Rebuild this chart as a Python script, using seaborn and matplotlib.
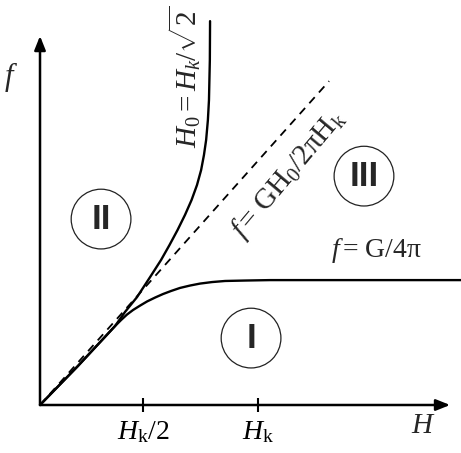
import numpy as np
import pandas as pd
import matplotlib
matplotlib.use('Agg')
import matplotlib.pyplot as plt
import seaborn as sns

# Curves (H in units of Hk, f in the same scale)
upper_H = [0.0, 0.174, 0.344, 0.390, 0.445, 0.505, 0.555, 0.594, 0.631, 0.665, 0.695, 0.720,
           0.739, 0.752, 0.762, 0.770, 0.775, 0.779, 0.780]
upper_f = [0.0, 0.179, 0.362, 0.427, 0.495, 0.587, 0.665, 0.734, 0.803, 0.872, 0.940, 1.009,
           1.078, 1.147, 1.216, 1.307, 1.399, 1.583, 1.761]

lower_H = [0.0, 0.174, 0.344, 0.372, 0.399, 0.427, 0.459, 0.491, 0.528, 0.564, 0.601, 0.642,
           0.688, 0.734, 0.789, 0.849, 0.940, 1.055, 1.931]
lower_f = [0.0, 0.179, 0.362, 0.390, 0.415, 0.436, 0.456, 0.475, 0.493, 0.509, 0.523, 0.537,
           0.548, 0.557, 0.564, 0.569, 0.571, 0.573, 0.573]

dash_H = [0.0, 1.326]
dash_f = [0.0, 1.486]

# Regions
region_names = ['I', 'II', 'III']
region_H = [0.968, 0.280, 1.486]
region_f = [0.307, 0.853, 1.050]

tick_pos = [0.472, 1.0]
tick_labels = [r'$H_{\mathrm{k}}/2$', r'$H_{\mathrm{k}}$']

sns.set_theme(style='white')
plt.rcParams['font.family'] = ['Liberation Serif', 'DejaVu Serif']
plt.rcParams['mathtext.fontset'] = 'custom'
plt.rcParams['mathtext.rm'] = 'Liberation Serif'
plt.rcParams['mathtext.it'] = 'Liberation Serif:italic'
plt.rcParams['mathtext.bf'] = 'Liberation Serif:bold'

fig = plt.figure(figsize=(4.61, 4.53), dpi=100)
ax = fig.add_axes([0, 0, 1, 1])
ax.set_xlim(-0.1835, 1.931)
ax.set_ylim(-0.2202, 1.858)

df_up = pd.DataFrame({'H': upper_H, 'f': upper_f})
df_low = pd.DataFrame({'H': lower_H, 'f': lower_f})
df_dash = pd.DataFrame({'H': dash_H, 'f': dash_f})

curve_kw = dict(color='black', lw=1.7, estimator=None, sort=False,
                solid_joinstyle='round', solid_capstyle='round')
sns.lineplot(data=df_up, x='H', y='f', ax=ax, **curve_kw)
sns.lineplot(data=df_low, x='H', y='f', ax=ax, **curve_kw)
sns.lineplot(data=df_dash, x='H', y='f', ax=ax, color='black', lw=1.3, estimator=None, sort=False,
             linestyle=(0, (4.5, 3.5)))

# Axes with arrows
for sp in ax.spines.values():
    sp.set_visible(False)
ax.spines['bottom'].set_position(('data', 0))
arrow = dict(arrowstyle='-|>,head_length=0.7,head_width=0.28', lw=1.8, color='black',
             shrinkA=0, shrinkB=0)
ax.annotate('', xy=(1.881, 0), xytext=(0, 0), arrowprops=arrow)
ax.annotate('', xy=(0, 1.693), xytext=(0, 0), arrowprops=arrow)

# Region circles and numerals
df_reg = pd.DataFrame({'H': region_H, 'f': region_f, 'name': region_names})
sns.scatterplot(data=df_reg, x='H', y='f', ax=ax, s=1850, marker='o', facecolor='none',
                edgecolor='#222222', linewidth=0.9, legend=False, zorder=3)
for name, h, f in zip(region_names, region_H, region_f):
    ax.text(h, f, name, fontsize=25, ha='center', va='center', family='Liberation Sans',
            fontweight='bold')

ax.set_xticks(tick_pos)
ax.set_xticklabels(tick_labels, fontsize=20)
ax.tick_params(axis='x', direction='inout', length=10, width=1.5, pad=5, colors='black', bottom=True)
ax.set_yticks([])
ax.set_xlabel('')
ax.set_ylabel('')

ax.text(1.757, -0.096, r'$H$', fontsize=21, ha='center', va='center')
ax.text(-0.133, 1.505, r'$f$', fontsize=22, ha='center', va='center')

ax.text(0.661, 1.505, r'$H_0 = H_k/\sqrt{2}$', fontsize=21, rotation=90,
        ha='center', va='center', rotation_mode='anchor')
ax.text(1.138, 1.060, r'$f\,$= GH$_0$/2πH$_{\mathrm{k}}$', fontsize=21, rotation=50,
        ha='center', va='center', rotation_mode='anchor')
ax.text(1.541, 0.711, r'$f\,$= G/4π', fontsize=20, ha='center', va='center')

fig.savefig('out.png', dpi=100)
